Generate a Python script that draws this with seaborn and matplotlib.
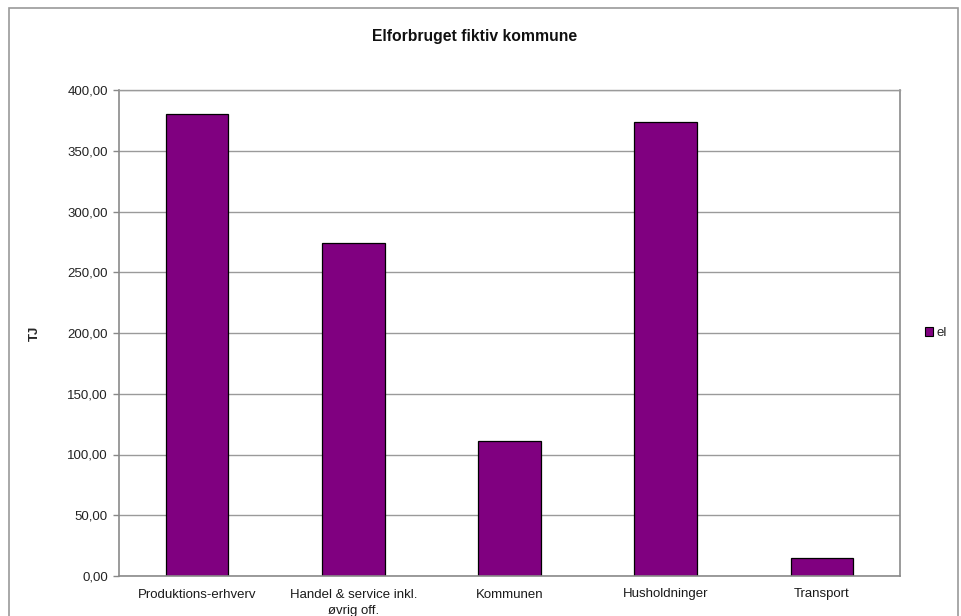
import matplotlib
matplotlib.use("Agg")
import matplotlib.pyplot as plt
from matplotlib.patches import Rectangle
from matplotlib.ticker import FixedLocator, FuncFormatter
import seaborn as sns
import pandas as pd

categories = ["Produktions-erhverv", "Handel & service inkl.\nøvrig off.",
              "Kommunen", "Husholdninger", "Transport"]
values = [380.5, 274.0, 111.0, 374.0, 14.8]
series_name = "el"
title = "Elforbruget fiktiv kommune"
y_label = "TJ"
y_ticks = [0, 50, 100, 150, 200, 250, 300, 350, 400]

sns.set_theme(style="white")
plt.rcParams["font.family"] = ["Liberation Sans", "DejaVu Sans"]

df = pd.DataFrame({"kategori": categories, "TJ": values, "serie": series_name})

fig = plt.figure(figsize=(9.61, 6.16), dpi=100)
ax = fig.add_axes([119 / 961, 1 - 576 / 616, 781 / 961, 486 / 616])

sns.barplot(data=df, x="kategori", y="TJ", hue="serie", palette=["#800080"],
            width=0.4, edgecolor="black", linewidth=0.9, saturation=1,
            ax=ax, legend=False)

ax.set_ylim(0, 400)
ax.set_xlim(-0.5, len(categories) - 0.5)
ax.yaxis.set_major_locator(FixedLocator(y_ticks))
ax.yaxis.set_major_formatter(FuncFormatter(lambda v, p: f"{v:.2f}".replace(".", ",")))
ax.grid(axis="y", color="#9a9a9a", linewidth=1.0)
ax.set_axisbelow(True)

ax.set_xticks(range(len(categories)))
ax.set_xticklabels(categories, linespacing=1.45)
ax.set_xticks([i - 0.5 for i in range(len(categories) + 1)], minor=True)
ax.tick_params(axis="x", which="major", length=0, pad=9, labelsize=9.5, colors="#1a1a1a")
ax.tick_params(axis="x", which="minor", length=4, width=1, color="#888888", direction="out")
ax.tick_params(axis="y", which="major", length=4, width=1, color="#888888",
               direction="out", left=True, labelsize=9.5, pad=4, labelcolor="#222222")
ax.set_xlabel("")
ax.set_ylabel(y_label, fontsize=9.5, fontweight="bold")
ax.yaxis.set_label_coords((41 - 119) / 781, 0.5)

for side in ["left", "bottom", "right", "top"]:
    ax.spines[side].set_visible(True)
    ax.spines[side].set_color("#8a8a8a")
    ax.spines[side].set_linewidth(1.2)
ax.spines["top"].set_color("#9a9a9a")
ax.spines["top"].set_linewidth(1.0)

fig.text(475 / 961, 1 - 37 / 616, title, ha="center", va="center",
         fontsize=11.3, fontweight="bold", color="#111111")

# legend
handle = Rectangle((0, 0), 1, 1, facecolor="#800080", edgecolor="black", linewidth=0.8)
fig.legend([handle], [series_name], loc="center left",
           bbox_to_anchor=(925 / 961, 1 - 333 / 616), frameon=False,
           fontsize=9.5, handlelength=0.6, handleheight=0.6, handletextpad=0.3,
           borderpad=0, borderaxespad=0)

# chart border
fig.patches.append(Rectangle((9 / 961, -0.02), 949 / 961, 1 - 8 / 616 + 0.02,
                             transform=fig.transFigure, fill=False,
                             edgecolor="#9a9a9a", linewidth=1.2))

fig.savefig("out.png", dpi=100)
